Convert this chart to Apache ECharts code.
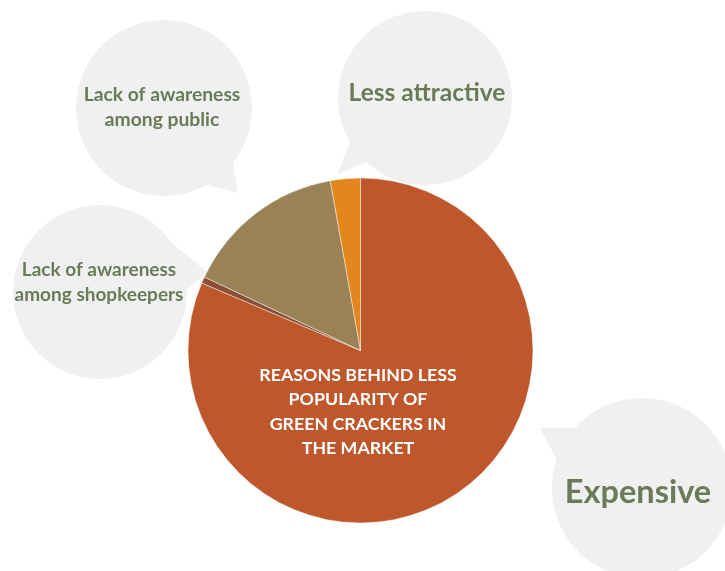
<!DOCTYPE html>
<html>
<head>
<meta charset="utf-8">
<script src="https://cdn.jsdelivr.net/npm/echarts@6/dist/echarts.min.js"></script>
<style>
  html, body { margin: 0; padding: 0; background: #ffffff; }
  #chart { width: 725px; height: 571px; }
</style>
</head>
<body>
<div id="chart"></div>
<script>
// Reasons, in clockwise order starting at 12 o'clock
const categories = [
  'Expensive',
  'Lack of awareness among shopkeepers',
  'Lack of awareness among public',
  'Less attractive'
];
// Share of responses (%)
const shares = [81.4, 0.6, 15.2, 2.8];
const sliceColors = ['#BE572B', '#8A4F36', '#9A8257', '#E3861B'];
const centerTitle = 'REASONS BEHIND LESS\nPOPULARITY OF\nGREEN CRACKERS IN\nTHE MARKET';

// Callout bubble text (line breaks for the bubbles)
const bubbleText = [
  'Expensive',
  'Lack of awareness\namong shopkeepers',
  'Lack of awareness\namong public',
  'Less attractive'
];

const bubbleFill = '#F0F0F0';
const labelColor = '#6B7A58';
const font = 'Lato, "Open Sans", sans-serif';

// Speech bubble: circle plus a triangular tail pointing at the pie
function bubble(cx, cy, r, tail) {
  return [
    { type: 'circle', shape: { cx: cx, cy: cy, r: r }, style: { fill: bubbleFill }, z: 0 },
    { type: 'polygon', shape: { points: tail }, style: { fill: bubbleFill }, z: 0 }
  ];
}

function label(text, x, y, size, lh) {
  return {
    type: 'text', x: x, y: y, z: 5,
    style: {
      text: text, fill: labelColor, font: 'bold ' + size + 'px ' + font,
      textAlign: 'center', textVerticalAlign: 'middle', lineHeight: lh || Math.round(size * 1.3)
    }
  };
}

const chart = echarts.init(document.getElementById('chart'), null, { renderer: 'canvas' });

const graphics = []
  .concat(bubble(164, 108, 88, [[232, 158], [238, 193], [204, 184]]))
  .concat(bubble(425, 98, 87, [[352, 138], [337, 175], [370, 160]]))
  .concat(bubble(100, 292, 87, [[172, 243], [207, 272], [184, 292]]))
  .concat(bubble(642, 488, 90, [[578, 428], [540, 428], [558, 462]]))
  .concat([
    label(bubbleText[2], 162, 107, 19.3, 25),
    label(bubbleText[3], 427, 93, 24.5),
    label(bubbleText[1], 99, 282, 19, 25),
    label(bubbleText[0], 638, 493, 32.5),
    {
      type: 'text', x: 358, y: 412, z: 10,
      style: {
        text: centerTitle, fill: '#ffffff', font: 'bold 17.8px ' + font,
        textAlign: 'center', textVerticalAlign: 'middle', lineHeight: 24.5
      }
    }
  ]);

chart.setOption({
  animation: false,
  graphic: { elements: graphics },
  series: [{
    type: 'pie',
    center: [360.5, 350.5],
    radius: 172.5,
    startAngle: 90,
    clockwise: true,
    label: { show: false },
    labelLine: { show: false },
    itemStyle: { borderColor: 'rgba(255,255,255,0.55)', borderWidth: 0.8 },
    emphasis: { disabled: true },
    data: categories.map((name, i) => ({
      name: name, value: shares[i], itemStyle: { color: sliceColors[i] }
    }))
  }]
});
</script>
</body>
</html>
